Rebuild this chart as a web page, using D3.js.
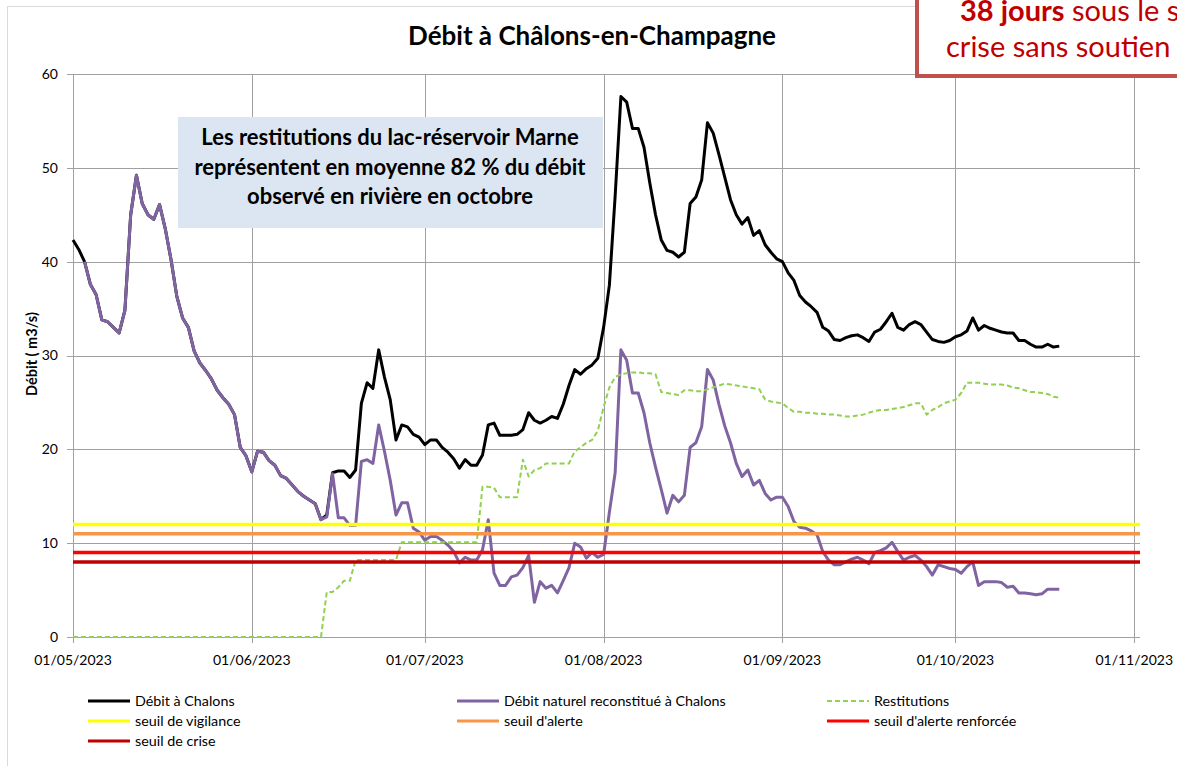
<!DOCTYPE html>
<html>
<head>
<meta charset="utf-8">
<script src="https://cdn.jsdelivr.net/npm/d3@7"></script>
<style>
body{margin:0;background:#fff;overflow:hidden}
text{font-family:Lato,"Open Sans",sans-serif}
</style>
</head>
<body>
<svg id="chart" width="1177" height="766"></svg>
<script>
// daily series, first value = 01/05/2023
const startDate = new Date(2023, 4, 1)

const debitChalons = [
  42.3, 41.3, 40.0, 37.6, 36.5, 33.8, 33.6, 33.0, 32.4, 34.8,
  45.0, 49.2, 46.2, 45.0, 44.5, 46.1, 43.5, 40.2, 36.3, 34.0,
  33.0, 30.5, 29.2, 28.4, 27.5, 26.3, 25.5, 24.8, 23.7, 20.2,
  19.3, 17.6, 19.8, 19.7, 18.8, 18.3, 17.2, 16.9, 16.2, 15.5,
  15.0, 14.6, 14.2, 12.5, 13.0, 17.5, 17.7, 17.7, 17.0, 17.8,
  24.9, 27.1, 26.5, 30.6, 27.7, 25.3, 21.0, 22.6, 22.4, 21.6,
  21.3, 20.5, 21.0, 21.0, 20.2, 19.7, 19.0, 18.0, 18.9, 18.3,
  18.3, 19.4, 22.6, 22.8, 21.5, 21.5, 21.5, 21.6, 22.1, 23.9,
  23.1, 22.8, 23.1, 23.5, 23.3, 24.8, 26.8, 28.5, 28.0, 28.6,
  29.0, 29.7, 33.0, 37.5, 47.0, 57.6, 57.0, 54.2, 54.2, 52.2,
  48.4, 45.0, 42.3, 41.2, 41.0, 40.5, 41.0, 46.2, 46.9, 48.7,
  54.8, 53.7, 51.4, 49.0, 46.6, 45.0, 44.0, 44.7, 42.8, 43.3,
  41.8, 41.0, 40.3, 40.0, 38.8, 38.0, 36.4, 35.7, 35.2, 34.6,
  33.0, 32.6, 31.7, 31.6, 31.9, 32.1, 32.2, 31.9, 31.5, 32.5,
  32.8, 33.6, 34.5, 33.0, 32.7, 33.3, 33.6, 33.3, 32.5, 31.7,
  31.5, 31.4, 31.6, 32.0, 32.2, 32.6, 34.0, 32.7, 33.2, 32.9,
  32.7, 32.5, 32.4, 32.4, 31.6, 31.6, 31.2, 30.9, 30.9, 31.2,
  30.9, 31.0
]

const debitNaturel = [
  null, null, 40.0, 37.6, 36.5, 33.8, 33.6, 33.0, 32.4, 34.8,
  45.0, 49.2, 46.2, 45.0, 44.5, 46.1, 43.5, 40.2, 36.3, 34.0,
  33.0, 30.5, 29.2, 28.4, 27.5, 26.3, 25.5, 24.8, 23.7, 20.2,
  19.3, 17.6, 19.8, 19.7, 18.8, 18.3, 17.2, 16.9, 16.2, 15.5,
  15.0, 14.6, 14.2, 12.5, 12.8, 17.4, 12.7, 12.7, 11.9, 11.9,
  18.7, 18.9, 18.5, 22.6, 19.8, 16.7, 13.0, 14.3, 14.3, 11.6,
  11.2, 10.3, 10.7, 10.7, 10.3, 9.8, 9.1, 7.9, 8.5, 8.2,
  8.2, 9.3, 12.5, 6.8, 5.5, 5.5, 6.4, 6.6, 7.4, 8.7,
  3.7, 5.9, 5.2, 5.5, 4.7, 6.0, 7.4, 10.0, 9.6, 8.4,
  9.0, 8.5, 8.8, 13.3, 17.5, 30.6, 29.5, 26.0, 26.0, 23.9,
  20.7, 18.1, 15.7, 13.2, 15.1, 14.4, 15.1, 20.2, 20.7, 22.4,
  28.5, 27.4, 24.8, 22.5, 20.7, 18.5, 17.1, 17.8, 16.2, 16.7,
  15.3, 14.6, 14.9, 14.9, 13.9, 12.3, 11.7, 11.6, 11.3, 10.9,
  9.1, 8.2, 7.7, 7.7, 8.0, 8.3, 8.5, 8.2, 7.8, 9.0,
  9.2, 9.5, 10.1, 9.1, 8.2, 8.5, 8.7, 8.2, 7.5, 6.6,
  7.7, 7.5, 7.3, 7.2, 6.8, 7.5, 8.0, 5.5, 5.9, 5.9,
  5.9, 5.8, 5.3, 5.4, 4.7, 4.7, 4.6, 4.5, 4.6, 5.1,
  5.1, 5.1
]

const restitutions = [
  0, 0, 0, 0, 0, 0, 0, 0, 0, 0,
  0, 0, 0, 0, 0, 0, 0, 0, 0, 0,
  0, 0, 0, 0, 0, 0, 0, 0, 0, 0,
  0, 0, 0, 0, 0, 0, 0, 0, 0, 0,
  0, 0, 0, 0, 4.8, 4.8, 5.3, 6.0, 6.0, 8.2,
  8.2, 8.2, 8.2, 8.2, 8.2, 8.2, 8.2, 10.1, 10.1, 10.1,
  10.1, 10.1, 10.1, 10.1, 10.1, 10.1, 10.1, 10.1, 10.1, 10.1,
  10.1, 16.0, 16.0, 15.9, 14.9, 14.9, 14.9, 14.9, 18.9, 17.1,
  17.8, 18.0, 18.5, 18.5, 18.5, 18.5, 18.5, 19.8, 20.2, 20.7,
  21.0, 22.0, 24.5, 26.6, 27.7, 28.0, 28.1, 28.2, 28.2, 28.1,
  28.1, 28.0, 26.1, 26.0, 25.9, 25.8, 26.3, 26.3, 26.2, 26.2,
  26.4, 26.6, 26.8, 27.0, 26.9, 26.8, 26.7, 26.6, 26.5, 26.4,
  25.3, 25.1, 25.0, 24.9, 24.4, 24.0, 24.0, 23.9, 23.9, 23.8,
  23.8, 23.7, 23.7, 23.6, 23.5, 23.5, 23.6, 23.7, 23.9, 24.1,
  24.2, 24.2, 24.3, 24.4, 24.5, 24.7, 24.9, 24.9, 23.7, 24.2,
  24.5, 24.9, 25.1, 25.3, 26.0, 27.1, 27.1, 27.1, 27.0, 26.9,
  26.9, 26.9, 26.8, 26.6, 26.5, 26.3, 26.1, 26.1, 26.0, 25.9,
  25.6, 25.5
]

const seuilNames = ["seuil de vigilance", "seuil d'alerte", "seuil d'alerte renforcée", "seuil de crise"]
const seuilValues = [12, 11, 9, 8]
const seriesNames = ["Débit à Chalons", "Débit naturel reconstitué à Chalons", "Restitutions"]
const yTicks = [0, 10, 20, 30, 40, 50, 60]

const title = "Débit à Châlons-en-Champagne"
const yLabel = "Débit ( m3/s)"
const noteLines = ["Les restitutions du lac-réservoir Marne", "représentent en moyenne 82 % du débit", "observé en rivière en octobre"]
const calloutBold = "38 jours"
const calloutLines = [" sous le s", "crise sans soutien"]

// styles
const seuilColors = ["#ffff00", "#f79646", "#ff0000", "#c00000"]
const seriesStyles = [
  {color: "#000000", width: 3, dash: null},
  {color: "#8064a2", width: 3, dash: null},
  {color: "#92d050", width: 2, dash: "5,3"}
]

const svg = d3.select("#chart")
const pLeft = 73, pRight = 1140, pTop = 74, pBottom = 637

const X = d3.scaleTime().domain([new Date(2023, 4, 1), new Date(2023, 10, 2)]).range([pLeft, pRight])
const Y = d3.scaleLinear().domain([0, 60]).range([pBottom, pTop])
const fmt = d3.timeFormat("%d/%m/%Y")
const months = d3.timeMonth.range(new Date(2023, 4, 1), new Date(2023, 10, 2))

const toPoints = arr => arr.map((v, i) => ({date: d3.timeDay.offset(startDate, i), v}))
const line = d3.line().defined(d => d.v != null).x(d => X(d.date)).y(d => Y(d.v))

// chart frame
svg.append("rect").attr("x", 7.5).attr("y", 6.5).attr("width", 1200).attr("height", 800)
  .attr("fill", "#fff").attr("stroke", "#d9d9d9")

// grid
const grid = svg.append("g").attr("stroke", "#a0a0a0").attr("stroke-width", 1)
grid.selectAll(".h").data(yTicks).enter().append("line")
  .attr("x1", pLeft - 6).attr("x2", pRight)
  .attr("y1", d => Math.round(Y(d)) + 0.5).attr("y2", d => Math.round(Y(d)) + 0.5)
grid.selectAll(".v").data(months).enter().append("line")
  .attr("x1", d => Math.round(X(d)) + 0.5).attr("x2", d => Math.round(X(d)) + 0.5)
  .attr("y1", pTop).attr("y2", pBottom + 6)

// tick labels
svg.append("g").selectAll("text").data(yTicks).enter().append("text")
  .attr("x", 58).attr("y", d => Y(d)).attr("dy", "0.35em")
  .attr("text-anchor", "end").attr("font-size", 14).attr("fill", "#000")
  .text(d => d)
svg.append("g").selectAll("text").data(months).enter().append("text")
  .attr("x", d => X(d)).attr("y", 665)
  .attr("text-anchor", "middle").attr("font-size", 14).attr("fill", "#000")
  .text(d => fmt(d))

svg.append("text").attr("transform", "translate(37,354) rotate(-90)")
  .attr("text-anchor", "middle").attr("font-size", 14.5).attr("font-weight", "bold")
  .text(yLabel)

// series
const allSeries = [debitChalons, debitNaturel, restitutions]
svg.append("g").selectAll("path").data(allSeries).enter().append("path")
  .attr("d", d => line(toPoints(d)))
  .attr("fill", "none")
  .attr("stroke", (d, i) => seriesStyles[i].color)
  .attr("stroke-width", (d, i) => seriesStyles[i].width)
  .attr("stroke-dasharray", (d, i) => seriesStyles[i].dash)
  .attr("stroke-linejoin", "round")

// thresholds
svg.append("g").selectAll("line").data(seuilValues).enter().append("line")
  .attr("x1", pLeft).attr("x2", pRight)
  .attr("y1", d => Y(d)).attr("y2", d => Y(d))
  .attr("stroke", (d, i) => seuilColors[i]).attr("stroke-width", 3.5)

// title
svg.append("text").attr("x", 592).attr("y", 45).attr("text-anchor", "middle")
  .attr("font-size", 26).attr("font-weight", "bold").text(title)

// note box
svg.append("rect").attr("x", 178).attr("y", 117).attr("width", 425).attr("height", 111)
  .attr("fill", "#dce6f2")
svg.append("g").selectAll("text").data(noteLines).enter().append("text")
  .attr("x", 390).attr("y", (d, i) => [145, 175, 204][i])
  .attr("text-anchor", "middle").attr("font-size", 22).attr("font-weight", "bold")
  .text(d => d)

// red call-out, cut by the picture edge as in the original
svg.append("rect").attr("x", 917).attr("y", -20).attr("width", 320).attr("height", 96)
  .attr("fill", "#fff").attr("stroke", "#c0504d").attr("stroke-width", 4)
const t1 = svg.append("text").attr("x", 960).attr("y", 21).attr("font-size", 29).attr("fill", "#c00000")
t1.append("tspan").attr("font-weight", "bold").text(calloutBold)
t1.append("tspan").text(calloutLines[0])
svg.append("text").attr("x", 946).attr("y", 57).attr("font-size", 29).attr("fill", "#c00000")
  .text(calloutLines[1])

// legend
const legendItems = [
  {name: seriesNames[0], color: seriesStyles[0].color, w: 3, dash: null},
  {name: seriesNames[1], color: seriesStyles[1].color, w: 3, dash: null},
  {name: seriesNames[2], color: seriesStyles[2].color, w: 2, dash: "5,3"},
  ...seuilNames.map((n, i) => ({name: n, color: seuilColors[i], w: 3, dash: null}))
]
const colX = [88, 457, 827], rowY = [701, 721, 741]
const lg = svg.append("g").selectAll("g").data(legendItems).enter().append("g")
  .attr("transform", (d, i) => `translate(${colX[i % 3]},${rowY[Math.floor(i / 3)]})`)
lg.append("line").attr("x1", 0).attr("x2", 42).attr("y1", 0).attr("y2", 0)
  .attr("stroke", d => d.color).attr("stroke-width", d => d.w).attr("stroke-dasharray", d => d.dash)
lg.append("text").attr("x", 47).attr("dy", "0.35em").attr("font-size", 14.3).text(d => d.name)
</script>
</body>
</html>
